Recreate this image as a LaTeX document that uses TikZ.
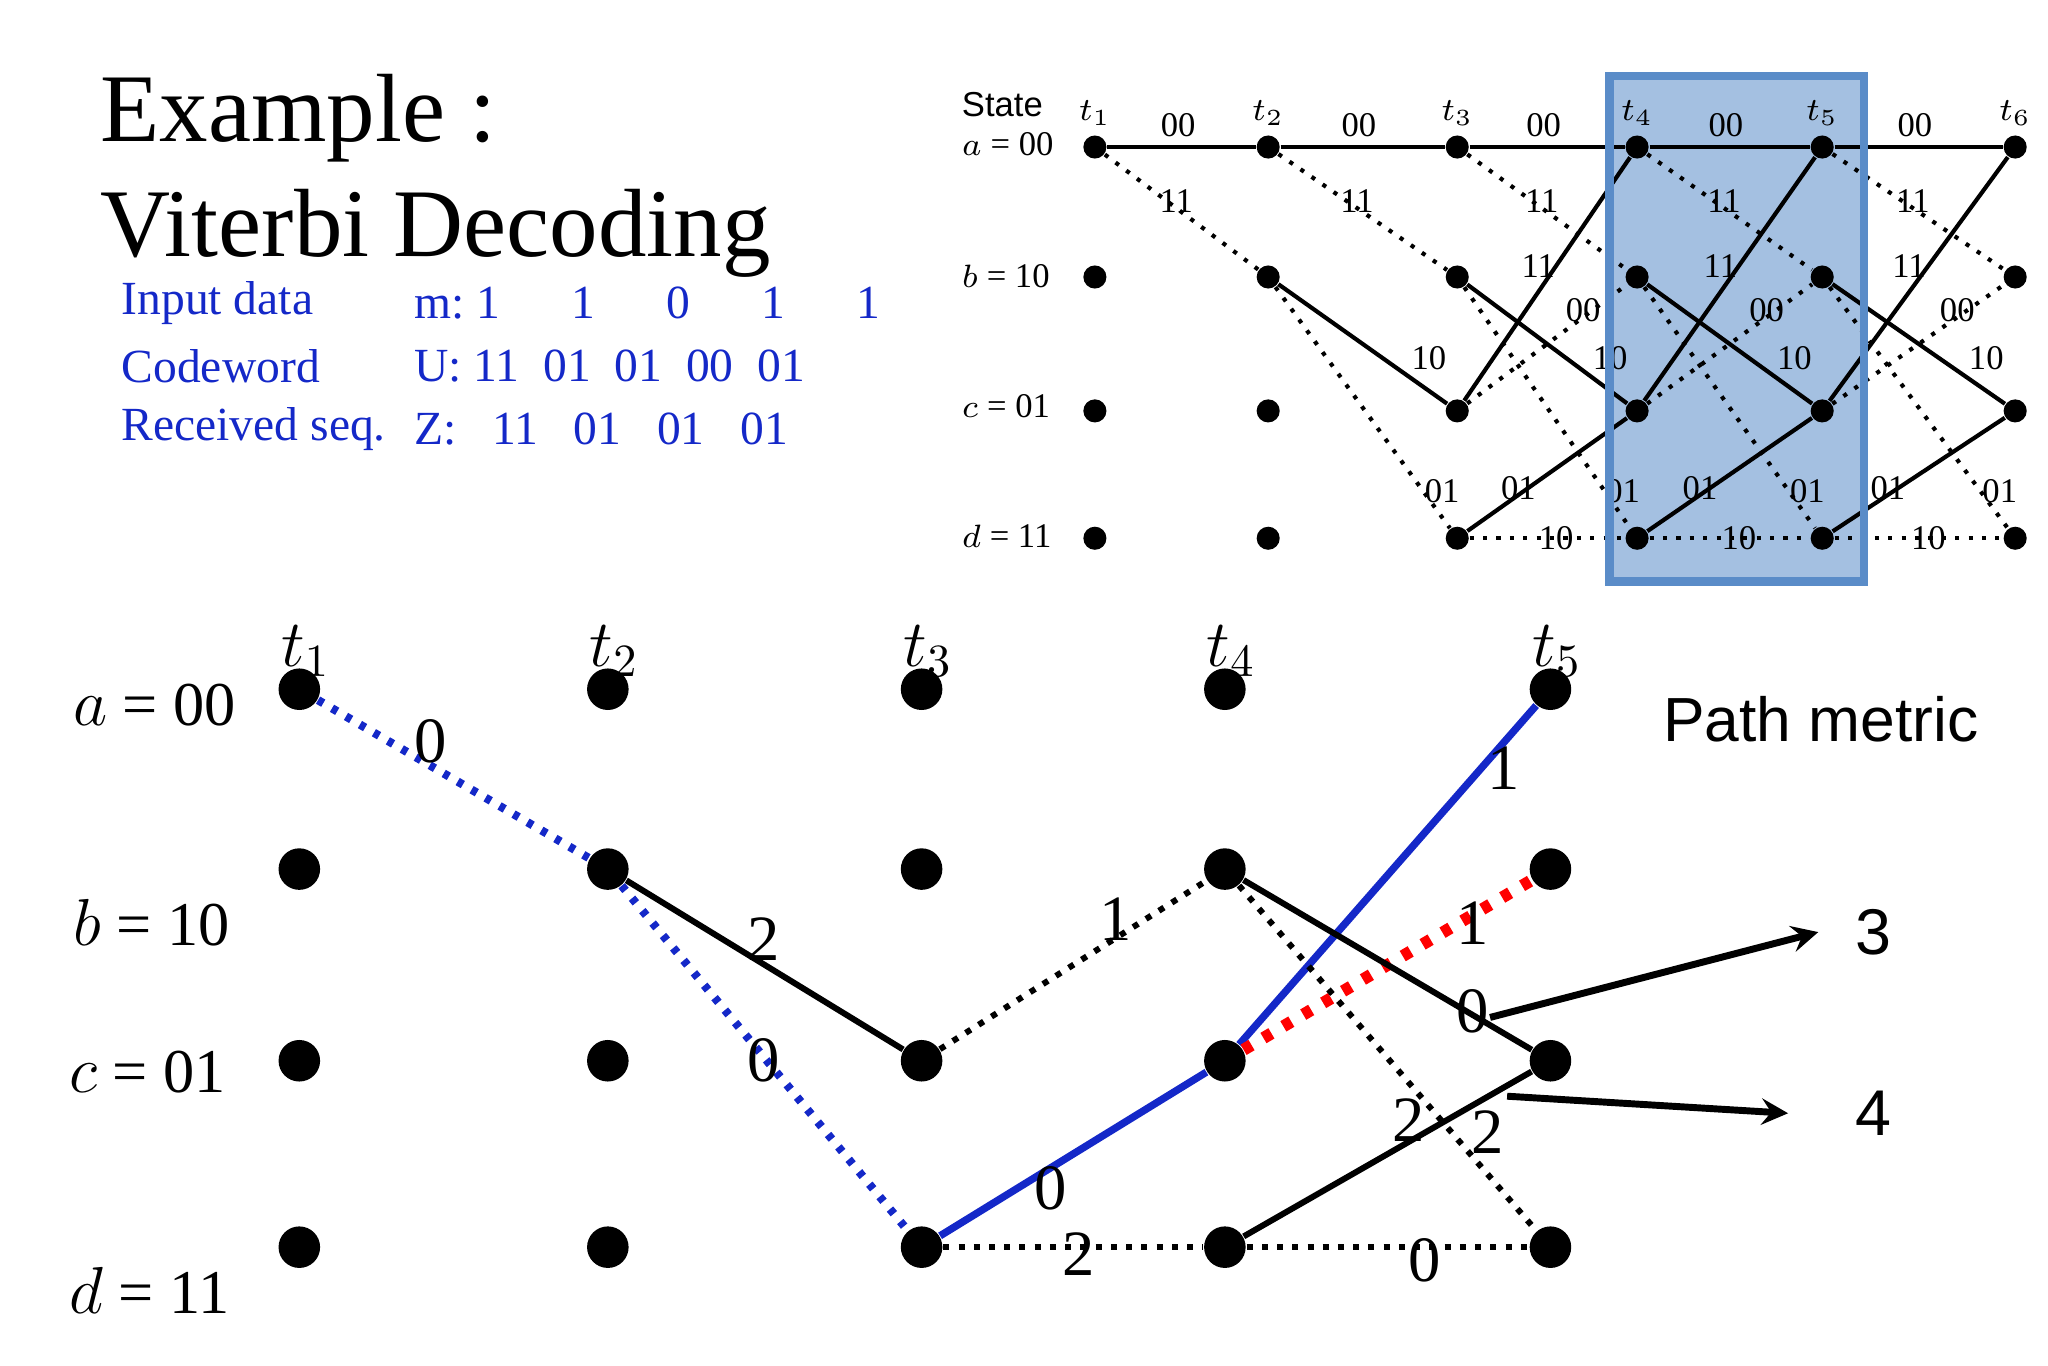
\documentclass[tikz,border=0pt]{standalone}
\usepackage{fontspec}
\setmainfont{Liberation Serif}
\newfontfamily\arialf{Liberation Sans}
\usetikzlibrary{calc}
\definecolor{tblue}{RGB}{20,40,200}
\definecolor{boxblue}{RGB}{90,140,200}
\begin{document}
\begin{tikzpicture}[x=0.01cm,y=-0.01cm,
  bdot/.style={circle,fill=black,inner sep=0pt,minimum width=30\pgflinewidth,minimum size=9pt},
  sdot/.style={circle,fill=black,inner sep=0pt,minimum size=5pt},
  solidE/.style={line width=1.3pt},
  dotE/.style={line width=1.3pt,dotted},
  bluesolid/.style={line width=1.6pt,tblue},
  bluedot/.style={line width=1.8pt,tblue,dash pattern=on 1.3pt off 2.2pt},
  reddot/.style={line width=2.6pt,red,dash pattern=on 2pt off 3pt},
  elab/.style={font=\fontsize{14}{14}\selectfont,inner sep=0pt},
  slab/.style={font=\fontsize{7.5}{7.5}\selectfont,inner sep=0pt},
  ssolid/.style={line width=0.9pt},
  sdotted/.style={line width=0.9pt,dotted},
  infot/.style={font=\fontsize{10.3}{12}\selectfont,text=tblue,anchor=west,inner sep=0pt}]
\useasboundingbox (0,0) rectangle (1560,1040);
% title
\node[anchor=west,inner sep=0pt,font=\fontsize{21}{21}\selectfont] (title1) at (76,90) {Example :};
\node[anchor=west,inner sep=0pt,font=\fontsize{21}{21}\selectfont] (title2) at (76,178) {Viterbi Decoding};
\node[infot] (i1) at (92,231) {Input data};
\node[infot] (i2) at (92,279) {Codeword};
\node[infot] (i3) at (92,327) {Received seq.};
\node[infot] (v1) at (315,231) {m:\ 1\quad\ \ 1\quad\ \ 0\quad\ \ 1\quad\ \ 1};
\node[infot] (v2) at (315,279) {U:\ 11\ \ 01\ \ 01\ \ 00\ \ 01};
\node[infot] (v3) at (315,327) {Z:\ \ \ 11\ \ \ 01\ \ \ 01\ \ \ 01};
% ===== top trellis =====
\fill[boxblue,opacity=0.55] (1226,58) rectangle (1420,443);
\node[anchor=west,inner sep=0pt,font=\arialf\fontsize{7.5}{7.5}\selectfont] (st) at (732,80) {State};
\foreach \r/\lab/\y in {a/{a}/112,b/{b}/212,c/{c}/312,d/{d}/410}{}
\node[anchor=west,slab] (sa) at (732,110) {$a$ = 00};
\node[anchor=west,slab] (sb) at (732,210) {$b$ = 10};
\node[anchor=west,slab] (sc) at (732,309) {$c$ = 01};
\node[anchor=west,slab] (sd) at (732,408) {$d$ = 11};
\foreach \i/\x in {1/834,2/966,3/1110,4/1247,5/1388,6/1535}{
  \node[sdot] (ta\i) at (\x,112) {};
  \node[sdot] (tb\i) at (\x,211) {};
  \node[sdot] (tc\i) at (\x,313) {};
  \node[sdot] (td\i) at (\x,410) {};
  \node[slab] (tt\i) at (\x,86) {$t_{\i}$};
}
\foreach \i/\j in {1/2,2/3,3/4,4/5,5/6}{
  \draw[ssolid] (ta\i) -- node[slab,pos=0.48,yshift=-17pt] {} (ta\j);
  \node[slab] (l00\i) at ($(ta\i)!0.48!(ta\j)+(0,-17)$) {00};
  \draw[sdotted] (ta\i) -- (tb\j);
  \node[slab] (l11\i) at ($(ta\i)!0.47!(tb\j)+(0,-5)$) {11};
}
\foreach \i/\j in {2/3,3/4,4/5,5/6}{
  \draw[ssolid] (tb\i) -- (tc\j);
  \node[slab] (l10\i) at ($(tb\i)!0.85!(tc\j)+(0,-25)$) {10};
  \draw[sdotted] (tb\i) -- (td\j);
  \node[slab] (l01\i) at ($(tb\i)!0.92!(td\j)+(0,-20)$) {01};
}
\foreach \i/\j in {3/4,4/5,5/6}{
  \draw[ssolid] (tc\i) -- (ta\j);
  \node[slab] (lca\i) at ($(tc\i)!0.45!(ta\j)+(0,-20)$) {11};
  \draw[sdotted] (tc\i) -- (tb\j);
  \node[slab] (lcb\i) at ($(tc\i)!0.7!(tb\j)+(0,-5)$) {00};
  \draw[ssolid] (td\i) -- (tc\j);
  \node[slab] (ldc\i) at ($(td\i)!0.34!(tc\j)+(0,-5)$) {01};
  \draw[sdotted] (td\i) -- (td\j);
  \node[slab] (ldd\i) at ($(td\i)!0.55!(td\j)$) {10};
}
\draw[boxblue,line width=1.8pt] (1226,58) rectangle (1420,443);
% ===== bottom trellis =====
\node[anchor=west,inner sep=0pt,font=\fontsize{13.5}{13.5}\selectfont] (la) at (55,537) {$a$ = 00};
\node[anchor=west,inner sep=0pt,font=\fontsize{13.5}{13.5}\selectfont] (lb) at (55,703) {$b$ = 10};
\node[anchor=west,inner sep=0pt,font=\fontsize{13.5}{13.5}\selectfont] (lc) at (52,817) {$c$ = 01};
\node[anchor=west,inner sep=0pt,font=\fontsize{13.5}{13.5}\selectfont] (ld) at (52,983) {$d$ = 11};
\foreach \i/\x in {1/228,2/463,3/702,4/933,5/1181}{
  \node[bdot] (A\i) at (\x,525) {};
  \node[bdot] (B\i) at (\x,662) {};
  \node[bdot] (C\i) at (\x,808) {};
  \node[bdot] (D\i) at (\x,950) {};
  \node[inner sep=0pt,font=\fontsize{14}{14}\selectfont] (T\i) at (\x+5,496) {$t_{\i}$};
}
\draw[bluedot] (A1) -- (B2);
\draw[solidE] (B2) -- (C3);
\draw[bluedot] (B2) -- (D3);
\draw[dotE] (C3) -- (B4);
\draw[bluesolid] (D3) -- (C4);
\draw[dotE] (D3) -- (D4);
\draw[bluesolid] (C4) -- (A5);
\draw[reddot] (C4) -- (B5);
\draw[solidE] (B4) -- (C5);
\draw[dotE] (B4) -- (D5);
\draw[solidE] (D4) -- (C5);
\draw[dotE] (D4) -- (D5);
\node[elab] (e1) at (328,565) {0};
\node[elab] (e2) at (582,715) {2};
\node[elab] (e3) at (582,808) {0};
\node[elab] (e4) at (850,700) {1};
\node[elab] (e5) at (800,905) {0};
\node[elab] (e6) at (822,955) {2};
\node[elab] (e7) at (1145,585) {1};
\node[elab] (e8) at (1122,703) {1};
\node[elab] (e9) at (1122,770) {0};
\node[elab] (e10) at (1073,853) {2};
\node[elab] (e11) at (1133,862) {2};
\node[elab] (e12) at (1085,960) {0};
\node[inner sep=0pt,font=\arialf\fontsize{13.5}{13.5}\selectfont] (pm) at (1387,548) {Path metric};
\node[inner sep=0pt,font=\arialf\fontsize{14}{14}\selectfont] (m3) at (1427,710) {3};
\node[inner sep=0pt,font=\arialf\fontsize{14}{14}\selectfont] (m4) at (1427,848) {4};
\coordinate (s3) at (1135,775);
\coordinate (s4) at (1148,835);
\draw[line width=1.5pt,-stealth] (s3) -- (1385,710);
\draw[line width=1.5pt,-stealth] (s4) -- (1362,848);
\end{tikzpicture}
\end{document}
